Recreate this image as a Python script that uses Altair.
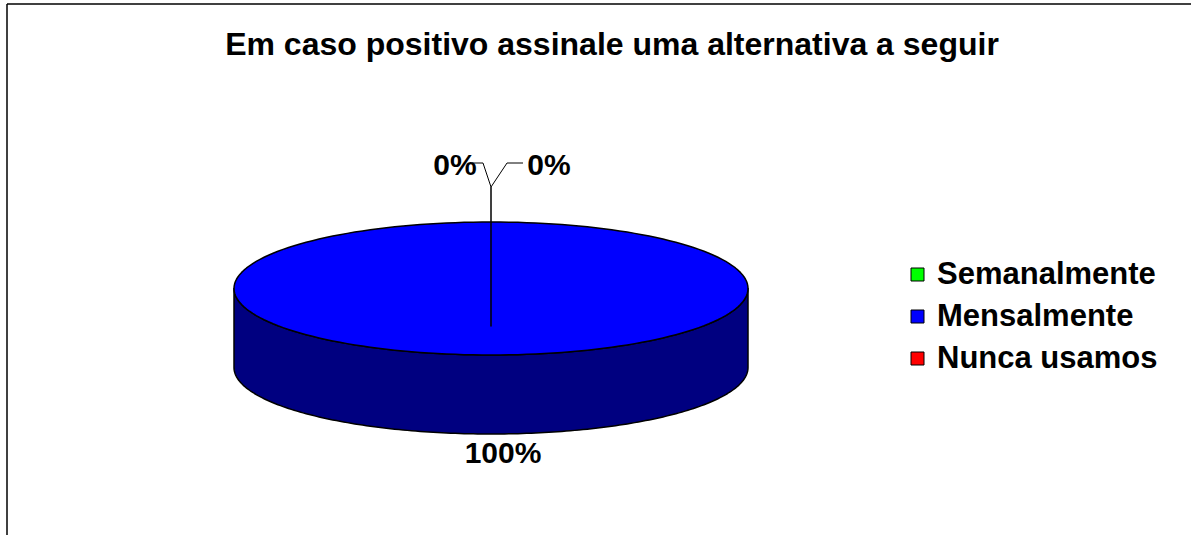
import math

import altair as alt
import pandas as pd

# ---- chart data ----
categories = ["Semanalmente", "Mensalmente", "Nunca usamos"]
values = [0, 100, 0]
colors = ["#00FF00", "#0000FF", "#FF0000"]
side_colors = ["#008000", "#000080", "#800000"]
chart_title = "Em caso positivo assinale uma alternativa a seguir"

# ---- layout (pixels) ----
W, H = 1191, 535
CX, CY = 491, 288.5          # centre of the pie's top face
RX, RY = 257, 66.5           # radii of the top face
DEPTH_PX = 79                # height of the pie's side wall
APEX_PX = 37.5               # wedge apex sits below the ellipse centre (perspective)
FONT = "Liberation Sans"
N = 180                      # samples along a full turn


def ux(px):
    return px / RX


def uy(px):
    return px / RY


DEPTH = uy(DEPTH_PX)

# 1 x-unit = RX px, 1 y-unit = RY px, origin at the pie centre
xs = alt.Scale(domain=[-CX / RX, (W - CX) / RX], nice=False, zero=False)
ys = alt.Scale(domain=[-(H - CY) / RY, CY / RY], nice=False, zero=False)

# leader geometry for zero-size slices, offsets in px from the slice's rim point
leader_styles = [
    dict(elbow=16, end=32, label=58),     # to the right
    dict(elbow=-8, end=-19, label=-36),   # to the left
]
JOINT_UP, ELBOW_UP, LABEL_UP = 35, 59, 56

total = sum(values)
top_rows, side_rows, label_rows, leader_rows = [], [], [], []
start = 0.0
zero_count = 0
for cat, v, side in zip(categories, values, side_colors):
    frac = v / total
    a0 = start * 2 * math.pi
    a1 = (start + frac) * 2 * math.pi
    start += frac
    pct = f"{round(frac * 100)}%"
    if v > 0:
        steps = max(2, int(N * frac))
        top_rows.append(dict(cat=cat, i=0, x=0.0, y=-uy(APEX_PX)))
        for k in range(steps + 1):
            t = a0 + (a1 - a0) * k / steps
            top_rows.append(dict(cat=cat, i=k + 1, x=math.sin(t), y=math.cos(t)))
        lo, hi = max(a0, math.pi / 2), min(a1, 3 * math.pi / 2)
        if hi > lo:
            for k in range(N + 1):
                t = lo + (hi - lo) * k / N
                side_rows.append(dict(cat=cat, shade=side, x=math.sin(t),
                                      y=math.cos(t), y2=math.cos(t) - DEPTH))
        mid = (a0 + a1) / 2
        ly = math.cos(mid) - (DEPTH if math.cos(mid) < 0 else 0)
        ly += -uy(20) if math.cos(mid) < 0 else uy(20)
        label_rows.append(dict(cat=cat, text=pct, x=math.sin(mid) * 1.05 + ux(12), y=ly))
    else:
        st = leader_styles[zero_count % 2]
        zero_count += 1
        x0, y0 = math.sin(a0), math.cos(a0)
        pts = [(x0, y0), (x0, y0 + uy(JOINT_UP)),
               (x0 + ux(st["elbow"]), y0 + uy(ELBOW_UP)),
               (x0 + ux(st["end"]), y0 + uy(ELBOW_UP))]
        for j, (px, py) in enumerate(pts):
            leader_rows.append(dict(cat=cat, i=j, x=px, y=py))
        label_rows.append(dict(cat=cat, text=pct, x=x0 + ux(st["label"]), y=y0 + uy(LABEL_UP)))

top_df = pd.DataFrame(top_rows)
side_df = pd.DataFrame(side_rows)
label_df = pd.DataFrame(label_rows)
leader_df = pd.DataFrame(leader_rows)
one = pd.DataFrame({"k": [0]})

X = alt.X("x:Q", scale=xs, axis=None)
Y = alt.Y("y:Q", scale=ys, axis=None)

side_layer = alt.Chart(side_df).mark_area(
    orient="vertical", stroke="black", strokeWidth=1.5, strokeJoin="round"
).encode(
    x=X, y=Y, y2="y2:Q",
    color=alt.Color("shade:N", scale=None),
    detail="cat:N",
)

top_layer = alt.Chart(top_df).mark_line(
    interpolate="linear-closed", stroke="black", strokeWidth=1.5, strokeJoin="round"
).encode(
    x=X, y=Y,
    order="i:Q",
    detail="cat:N",
    fill=alt.Fill(
        "cat:N",
        scale=alt.Scale(domain=categories, range=colors),
        legend=alt.Legend(
            title=None, orient="none", legendX=902, legendY=259,
            symbolType="square", symbolSize=169,
            symbolStrokeColor="black", symbolStrokeWidth=1,
            labelFont=FONT, labelFontSize=31, labelFontWeight="bold",
            labelColor="black", labelOffset=4, labelLimit=0,
            rowPadding=10, padding=0,
        ),
    ),
)

leader_layer = alt.Chart(leader_df).mark_line(color="black", strokeWidth=1).encode(
    x=X, y=Y, order="i:Q", detail="cat:N"
)

label_layer = alt.Chart(label_df).mark_text(
    font=FONT, fontSize=30, fontWeight="bold", color="black",
    align="center", baseline="middle",
).encode(x=X, y=Y, text="text:N")

title_layer = alt.Chart(one).mark_text(
    text=chart_title, font=FONT, fontSize=32, fontWeight="bold", color="black",
    align="center", baseline="alphabetic",
).encode(x=alt.value(612), y=alt.value(55))

frame_v = alt.Chart(one).mark_rule(color="black", strokeWidth=1.5).encode(
    x=alt.value(7), y=alt.value(4), y2=alt.value(H + 10)
)
frame_h = alt.Chart(one).mark_rule(color="black", strokeWidth=1.5).encode(
    x=alt.value(7), x2=alt.value(W + 10), y=alt.value(4)
)

chart = alt.layer(
    side_layer, top_layer, leader_layer, label_layer, title_layer, frame_v, frame_h
).properties(
    width=W, height=H, autosize="none", padding=0, background="white"
).configure_view(stroke=None)

chart.save("out.html", embed_options={"renderer": "svg", "actions": False})
